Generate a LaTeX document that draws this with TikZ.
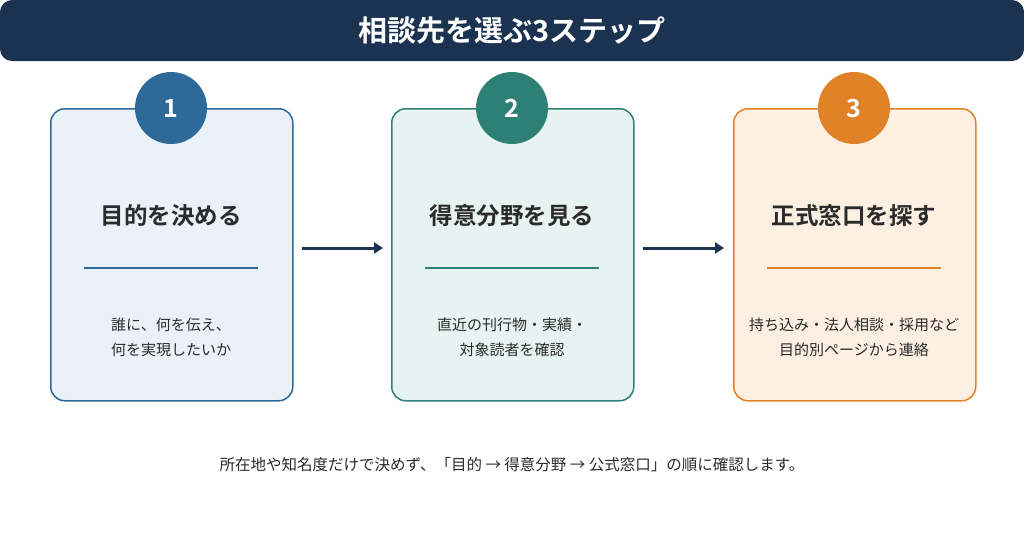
\documentclass[tikz,border=0pt]{standalone}
\usepackage{fontspec}
\setmainfont{Noto Sans CJK JP}[BoldFont={Noto Sans CJK JP Bold}]
\usetikzlibrary{arrows.meta}
\definecolor{navy}{HTML}{1B3350}
\definecolor{cblue}{HTML}{2E6A99}
\definecolor{cteal}{HTML}{2E8077}
\definecolor{corange}{HTML}{E08228}
\definecolor{fblue}{HTML}{EAF1F8}
\definecolor{fteal}{HTML}{E6F3F1}
\definecolor{forange}{HTML}{FDF0E3}
\definecolor{txt}{HTML}{2B2B2B}
\tikzset{
 card/.style={draw=#1,line width=1.5pt,rounded corners=14pt,minimum width=242pt,minimum height=292pt,anchor=north west},
 num/.style={circle,fill=#1,minimum size=72pt,text=white,font=\fontsize{25}{25}\selectfont\bfseries},
 head/.style={text=txt,font=\fontsize{23.5}{23.5}\selectfont\bfseries},
 body/.style={text=txt,font=\fontsize{15}{25}\selectfont,align=center},
 sep/.style={line width=1.5pt,draw=#1},
 arr/.style={line width=3pt,draw=navy,-{Triangle[length=9pt,width=11pt]}}
}
\begin{document}
\begin{tikzpicture}[x=1pt,y=-1pt]
\useasboundingbox[fill=white] (0,0) rectangle (1024,554);
\fill[navy,rounded corners=12pt] (0,0) rectangle (1024,61);
\node[text=white,font=\fontsize{29}{29}\selectfont\bfseries] (title) at (512,31) {相談先を選ぶ3ステップ};
\foreach \i/\x/\c/\f/\h/\ba/\bb in {1/50/cblue/fblue/目的を決める/誰に、何を伝え、/何を実現したいか,
 2/391/cteal/fteal/得意分野を見る/直近の刊行物・実績・/対象読者を確認,
 3/733/corange/forange/正式窓口を探す/持ち込み・法人相談・採用など/目的別ページから連絡}{
 \node[card=\c,fill=\f] (card\i) at (\x,108) {};
 \node[num=\c] (n\i) at (\x+121,108) {\i};
 \node[head] (h\i) at (\x+121,216) {\h};
 \draw[sep=\c] (\x+34,268) coordinate (s\i a) -- (\x+208,268) coordinate (s\i b);
 \node[body] (b\i) at (\x+121,337) {\ba\\\bb};
}
\coordinate (a1s) at (302,248); \coordinate (a1e) at (383,248);
\coordinate (a2s) at (643,248); \coordinate (a2e) at (724,248);
\draw[arr] (a1s) -- (a1e);
\draw[arr] (a2s) -- (a2e);
\node[text=txt,font=\fontsize{15.5}{15.5}\selectfont] (foot) at (512,465) {所在地や知名度だけで決めず、「目的 → 得意分野 → 公式窓口」の順に確認します。};
\end{tikzpicture}
\end{document}
